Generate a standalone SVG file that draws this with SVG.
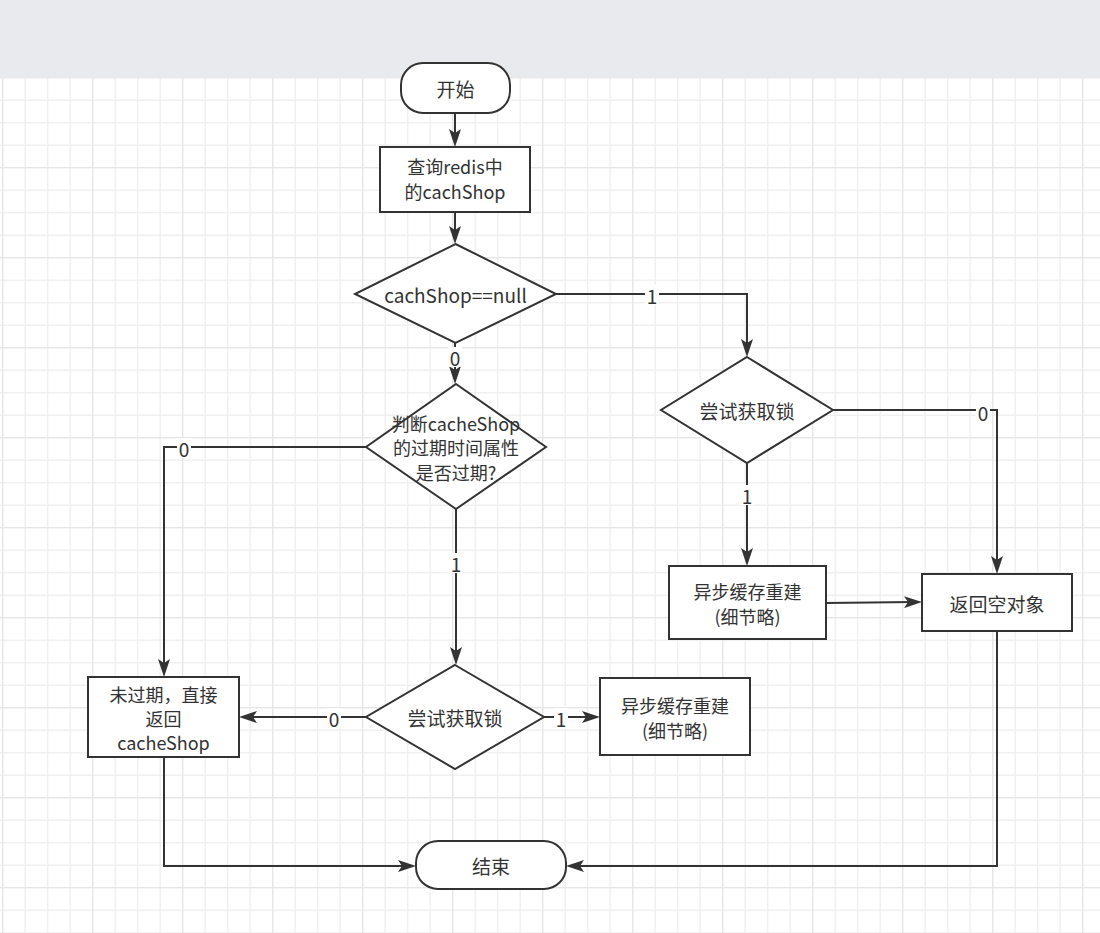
<svg xmlns="http://www.w3.org/2000/svg" width="1100" height="933" viewBox="0 0 1100 933">
<style>
.n{fill:#fff;stroke:#333;stroke-width:2}
.t{font-family:"Noto Sans CJK SC","Noto Sans",sans-serif;font-size:19px;fill:#333;text-anchor:middle;dominant-baseline:central}
.m{font-size:18px}
.e{fill:none;stroke:#333;stroke-width:2}
.a{marker-end:url(#arr)}
.lb{fill:#fff}
</style>
<defs>
<marker id="arr" viewBox="0 0 18 12" refX="10" refY="6" markerWidth="18" markerHeight="12" markerUnits="userSpaceOnUse" orient="auto">
<path d="M0,0 L18,6 L0,12 L4,6 Z" fill="#333"/>
</marker>
<pattern id="grid" patternUnits="userSpaceOnUse" x="2" y="77" width="90" height="90">
<rect x="0" y="0" width="90" height="90" fill="#fff"/>
<g fill="#f0f0f0">
<rect x="22.5" y="0" width="1.4" height="90"/><rect x="45" y="0" width="1.4" height="90"/><rect x="67.5" y="0" width="1.4" height="90"/>
<rect x="0" y="22.5" width="90" height="1.4"/><rect x="0" y="45" width="90" height="1.4"/><rect x="0" y="67.5" width="90" height="1.4"/>
</g>
<g fill="#e6e6e6">
<rect x="0" y="0" width="1.4" height="90"/><rect x="0" y="0" width="90" height="1.4"/>
</g>
</pattern>
</defs>
<rect x="0" y="0" width="1100" height="933" fill="url(#grid)"/>
<rect x="0" y="0" width="1100" height="77.5" fill="#e9eaed"/>

<g id="connectors">
<path class="e a" d="M455,113 L455,139"/>
<path class="e a" d="M455,212 L455,236"/>
<path class="e a" d="M556,294 L747,294 L747,349"/>
<path class="e a" d="M455,343 L455,376"/>
<path class="e a" d="M366,447 L164,447 L164,669"/>
<path class="e a" d="M456,509 L456,657"/>
<path class="e a" d="M833,410 L997,410 L997,566"/>
<path class="e a" d="M747,463 L747,558"/>
<path class="e a" d="M826,603 L914,602"/>
<path class="e a" d="M997,631 L997,866 L574,866"/>
<path class="e a" d="M366,717 L247,717"/>
<path class="e a" d="M544,717 L592,717"/>
<path class="e a" d="M164,757 L164,866 L408,866"/>
<g id="labels">
<rect class="lb" x="645" y="285" width="14" height="20"/><text class="t" x="652" y="295">1</text>
<rect class="lb" x="448" y="347" width="14" height="20"/><text class="t" x="455" y="357">0</text>
<rect class="lb" x="177" y="438" width="14" height="20"/><text class="t" x="184" y="448">0</text>
<rect class="lb" x="976" y="402" width="14" height="20"/><text class="t" x="983" y="412">0</text>
<rect class="lb" x="740" y="485" width="14" height="20"/><text class="t" x="747" y="495">1</text>
<rect class="lb" x="449" y="553" width="14" height="20"/><text class="t" x="456" y="563">1</text>
<rect class="lb" x="327" y="708" width="14" height="20"/><text class="t" x="334" y="718">0</text>
<rect class="lb" x="554" y="708" width="14" height="20"/><text class="t" x="561" y="718">1</text>
</g>
</g>

<g id="start"><rect class="n" x="401" y="63" width="109" height="50" rx="22"/><text class="t" x="455.5" y="88">开始</text></g>
<g id="query"><rect class="n" x="380" y="147" width="150" height="65"/><text class="t m" x="455" y="166">查询redis中</text><text class="t m" x="455" y="191">的cachShop</text></g>
<g id="isnull"><polygon class="n" points="455.5,244 556,294 455.5,343 355,294"/><text class="t" x="455.5" y="294">cachShop==null</text></g>
<g id="expired"><polygon class="n" points="456,384 546,447 456,509 366,447"/><text class="t m" x="456" y="423">判断cacheShop</text><text class="t m" x="456" y="447">的过期时间属性</text><text class="t m" x="456" y="472">是否过期?</text></g>
<g id="lock1"><polygon class="n" points="747,357 833,410 747,463 661,410"/><text class="t" x="747" y="410">尝试获取锁</text></g>
<g id="rebuild1"><rect class="n" x="669" y="566" width="157" height="73"/><text class="t m" x="747.5" y="591">异步缓存重建</text><text class="t m" x="747.5" y="616">(细节略)</text></g>
<g id="empty"><rect class="n" x="922" y="574" width="150" height="57"/><text class="t" x="997" y="603">返回空对象</text></g>
<g id="notexpired"><rect class="n" x="88" y="677" width="151" height="80"/><text class="t m" x="163.5" y="694">未过期，直接</text><text class="t m" x="163.5" y="718">返回</text><text class="t m" x="163.5" y="742">cacheShop</text></g>
<g id="lock2"><polygon class="n" points="455,665 544,717 455,769 366,717"/><text class="t" x="455" y="717">尝试获取锁</text></g>
<g id="rebuild2"><rect class="n" x="600" y="678" width="150" height="77"/><text class="t m" x="675" y="705">异步缓存重建</text><text class="t m" x="675" y="730">(细节略)</text></g>
<g id="end"><rect class="n" x="416" y="841" width="150" height="48" rx="22"/><text class="t" x="491" y="865">结束</text></g>
</svg>
